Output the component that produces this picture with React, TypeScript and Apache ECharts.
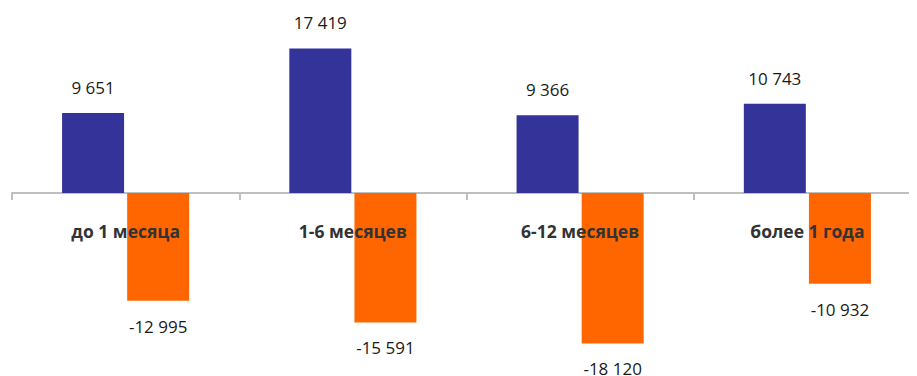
import React, { useEffect, useRef } from "react";
import * as echarts from "echarts";

const categories = ["до 1 месяца", "1-6 месяцев", "6-12 месяцев", "более 1 года"];
const inflowValues = [9651, 17419, 9366, 10743];
const outflowValues = [-12995, -15591, -18120, -10932];
const labelAnchors = [0, 0, 0, 0];

const fmt = (v: number) => {
  const s = Math.abs(v).toString().replace(/\B(?=(\d{3})+(?!\d))/g, " ");
  return (v < 0 ? "-" : "") + s;
};

export default function App() {
  const ref = useRef<HTMLDivElement>(null);
  useEffect(() => {
    const chart = echarts.init(ref.current!, undefined, { renderer: "svg" });
    chart.setOption({
      animation: false,
      grid: { left: 4, right: -4, top: 19, bottom: 17, containLabel: false, outerBoundsMode: "none" },
      xAxis: {
        type: "category",
        data: categories,
        axisLine: { lineStyle: { color: "#bfbfbf", width: 2 } },
        axisTick: { show: true, length: 7, lineStyle: { color: "#bfbfbf", width: 2 } },
        axisLabel: { show: false },
      },
      yAxis: {
        type: "value",
        min: -20000,
        max: 20000,
        show: false,
        splitLine: { show: false },
      },
      series: [
        {
          type: "bar",
          data: inflowValues,
          barWidth: 62,
          barGap: "5%",
          itemStyle: { color: "#333399" },
          label: {
            show: true,
            position: "top",
            distance: 17,
            fontSize: 17,
            color: "#1a1a1a",
            fontFamily: "Open Sans",
            formatter: (p: any) => fmt(p.value),
          },
        },
        {
          type: "bar",
          data: outflowValues,
          barWidth: 62,
          barGap: "5%",
          itemStyle: { color: "#ff6600" },
          label: {
            show: true,
            position: "bottom",
            distance: 17,
            fontSize: 17,
            color: "#1a1a1a",
            fontFamily: "Open Sans",
            formatter: (p: any) => fmt(p.value),
          },
        },
        {
          type: "scatter",
          data: labelAnchors,
          symbolSize: 0,
          z: 5,
          silent: true,
          itemStyle: { opacity: 1 },
          label: {
            show: true,
            position: "inside",
            offset: [0, 38],
            fontSize: 17.5,
            fontWeight: "bold",
            color: "#333333",
            opacity: 1,
            fontFamily: "Open Sans",
            formatter: (p: any) => categories[p.dataIndex],
          },
        },
      ],
    });
    return () => chart.dispose();
  }, []);
  return <div ref={ref} style={{ width: 909, height: 368 }} />;
}
